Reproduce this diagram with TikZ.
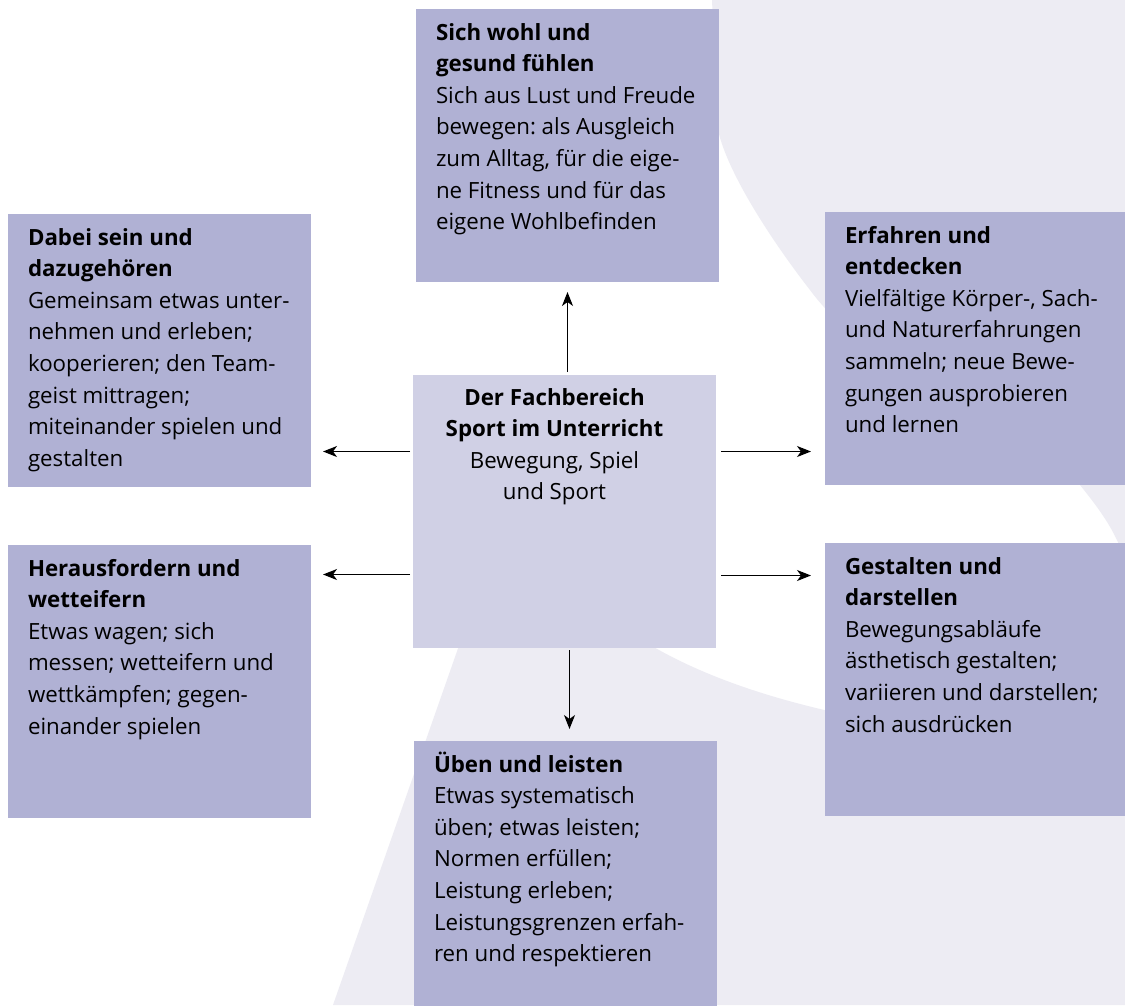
\documentclass[tikz,border=0pt]{standalone}
\usepackage{fontspec}
\setmainfont{Open Sans}
\usetikzlibrary{positioning,arrows.meta,calc}
\frenchspacing

\definecolor{fieldblue}{RGB}{176,177,212}
\definecolor{hubblue}{RGB}{208,208,229}
\definecolor{shadeblue}{RGB}{237,236,243}

% text of a field: bold title, then the description
\newcommand{\fieldtext}[2]{\parbox[c][273pt][t]{263pt}{\raggedright\rule{0pt}{31pt}\textbf{#1}\\#2}}

\begin{document}
\begin{tikzpicture}[
    x=1pt, y=-1pt,
    field/.style={rectangle, fill=fieldblue, anchor=north west, inner xsep=20pt, inner ysep=0pt, outer sep=0pt,
        font=\fontsize{22.3}{31.6}\selectfont},
    hub/.style={field, fill=hubblue},
    arrow/.style={-{Stealth[length=14pt, width=11pt, inset=4pt]}, line width=1.3pt}
]

\useasboundingbox (0,0) rectangle (1125,1005);
\clip (0,0) rectangle (1125,1005);
\fill[white] (0,0) rectangle (1125,1005);

% Background figure
\fill[shadeblue] (712,0) -- (718,130) .. controls (728,175) and (775,245) .. (810,290)
    .. controls (880,385) and (1040,430) .. (1080,485)
    .. controls (1100,510) and (1115,530) .. (1125,560) -- (1125,0) -- cycle;
\fill[shadeblue] (333,1005) -- (475,600) -- (600,610)
    .. controls (660,660) and (750,700) .. (900,725)
    -- (1125,745) -- (1125,1005) -- cycle;

% Centre
\node[hub] (center) at (413,375) {\parbox[c][273pt][t]{263pt}{\centering\rightskip=20pt plus 1fil\relax
    \rule{0pt}{30pt}\textbf{Der Fachbereich\\Sport im Unterricht}\\Bewegung, Spiel\\und Sport}};

% Fields
\node[field] (wohl) at (416,9) {\fieldtext{Sich wohl und\\gesund fühlen}
    {Sich aus Lust und Freude\\bewegen: als Ausgleich\\zum Alltag, für die eige-\\ne Fitness und für das\\eigene Wohlbefinden}};
\node[field] (dabei) at (8,214) {\fieldtext{Dabei sein und\\dazugehören}
    {Gemeinsam etwas unter-\\nehmen und erleben;\\kooperieren; den Team-\\geist mittragen;\\miteinander spielen und\\gestalten}};
\node[field] (heraus) at (8,545) {\fieldtext{Herausfordern und\\wetteifern}
    {Etwas wagen; sich\\messen; wetteifern und\\wettkämpfen; gegen-\\einander spielen}};
\node[field] (erfahren) at (825,212) {\fieldtext{Erfahren und\\entdecken}
    {Vielfältige Körper-, Sach-\\und Naturerfahrungen\\sammeln; neue Bewe-\\gungen ausprobieren\\und lernen}};
\node[field] (gestalten) at (825,543) {\fieldtext{Gestalten und\\darstellen}
    {Bewegungsabläufe\\ästhetisch gestalten;\\variieren und darstellen;\\sich ausdrücken}};
\node[field] (ueben) at (414,741) {\fieldtext{Üben und leisten}
    {Etwas systematisch\\üben; etwas leisten;\\Normen erfüllen;\\Leistung erleben;\\Leistungsgrenzen erfah-\\ren und respektieren}};

% Arrows
\coordinate (cl1) at ($(center.west)+(0,-60)$);
\coordinate (cl2) at ($(center.west)+(0,63)$);
\coordinate (cr1) at ($(center.east)+(0,-60)$);
\coordinate (cr2) at ($(center.east)+(0,64)$);
\coordinate (cb) at ($(ueben.north)+(4,0)$);

\draw[arrow, shorten <=3pt, shorten >=10pt] (center.north -| wohl.south) -- (wohl.south);
\draw[arrow, shorten <=3pt, shorten >=12pt] (cl1) -- (cl1 -| dabei.east);
\draw[arrow, shorten <=3pt, shorten >=12pt] (cl2) -- (cl2 -| heraus.east);
\draw[arrow, shorten <=5pt, shorten >=14pt] (cr1) -- (cr1 -| erfahren.west);
\draw[arrow, shorten <=5pt, shorten >=14pt] (cr2) -- (cr2 -| gestalten.west);
\draw[arrow, shorten <=2pt, shorten >=12pt] (center.south -| cb) -- (cb);

\end{tikzpicture}
\end{document}
